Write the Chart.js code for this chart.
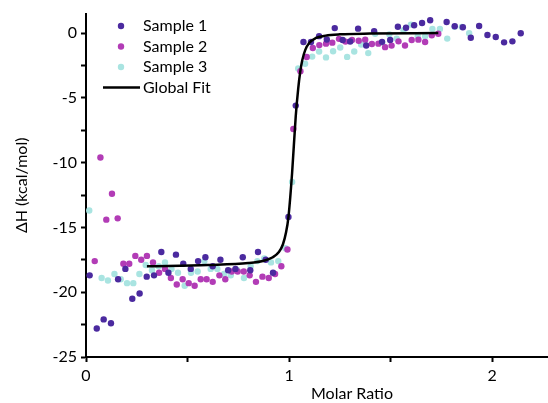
<!DOCTYPE html>
<html>
<head>
<meta charset="utf-8">
<script src="https://cdn.jsdelivr.net/npm/chart.js@4.4.1/dist/chart.umd.min.js"></script>
<style>
  html, body { margin: 0; padding: 0; background: #fff; overflow: hidden; }
  /* the original figure is cropped on the right: the x axis runs past the edge */
  #frame { width: 548px; height: 403px; overflow: hidden; }
  #itcChart { display: block; }
</style>
</head>
<body>
<div id="frame"><canvas id="itcChart" width="622" height="403"></canvas></div>
<script>
// Data (molar ratio vs. heat per injection)
const seriesNames = ['Sample 1', 'Sample 2', 'Sample 3', 'Global Fit'];

const sample1X = [0.018, 0.053, 0.087, 0.123, 0.158, 0.194, 0.228, 0.264, 0.299, 0.335, 0.371, 0.406, 0.443, 0.479, 0.516, 0.552, 0.588, 0.624, 0.662, 0.700, 0.736, 0.772, 0.809, 0.847, 0.885, 0.921, 0.997, 1.033, 1.071, 1.108, 1.148, 1.186, 1.225, 1.264, 1.301, 1.340, 1.380, 1.419, 1.458, 1.498, 1.536, 1.576, 1.616, 1.655, 1.695, 1.776, 1.816, 1.856, 1.895, 1.936, 1.977, 2.018, 2.059, 2.100, 2.141];
const sample1Y = [-18.7, -22.8, -22.1, -22.4, -19.0, -18.2, -20.5, -20.1, -18.8, -18.7, -16.9, -18.5, -17.1, -17.8, -18.2, -17.6, -17.3, -18.0, -17.5, -18.3, -18.2, -17.3, -18.3, -16.9, -17.5, -18.5, -14.2, -5.6, -0.69, -0.69, -0.24, -0.50, 0.38, -0.54, -0.65, 0.34, -0.96, 0.15, -0.68, -0.53, 0.49, 0.41, 0.60, 0.77, 0.99, 0.85, 0.52, 0.45, -0.36, 0.54, -0.15, -0.31, -0.72, -0.64, -0.02];

const sample2X = [0.043, 0.071, 0.100, 0.128, 0.156, 0.184, 0.213, 0.243, 0.272, 0.300, 0.330, 0.360, 0.389, 0.418, 0.447, 0.476, 0.506, 0.535, 0.565, 0.594, 0.624, 0.657, 0.686, 0.718, 0.747, 0.777, 0.806, 0.837, 0.869, 0.900, 0.931, 0.962, 0.992, 1.021, 1.056, 1.087, 1.117, 1.149, 1.182, 1.213, 1.246, 1.278, 1.310, 1.343, 1.375, 1.408, 1.440, 1.473, 1.505, 1.539, 1.571, 1.604, 1.637, 1.670, 1.703, 1.735];
const sample2Y = [-17.6, -9.6, -14.4, -12.4, -14.3, -17.8, -17.8, -17.2, -17.5, -17.2, -17.7, -18.5, -18.2, -18.9, -19.4, -19.0, -19.3, -19.5, -19.0, -19.0, -19.2, -18.7, -19.0, -18.4, -18.4, -18.4, -18.7, -19.2, -18.8, -18.9, -18.6, -18.0, -16.7, -7.4, -2.95, -1.85, -1.15, -0.93, -0.82, -0.74, -0.45, -0.66, -0.54, -0.60, -0.51, -0.85, -0.82, -1.09, -0.97, -0.64, -0.96, -0.54, -0.51, -0.69, -0.18, -0.05];

const sample3X = [0.016, 0.077, 0.108, 0.140, 0.171, 0.202, 0.233, 0.263, 0.294, 0.325, 0.358, 0.389, 0.421, 0.453, 0.486, 0.517, 0.550, 0.583, 0.614, 0.647, 0.680, 0.713, 0.745, 0.778, 0.811, 0.844, 0.878, 0.911, 0.947, 0.982, 1.015, 1.045, 1.079, 1.114, 1.148, 1.182, 1.217, 1.252, 1.286, 1.321, 1.355, 1.390, 1.424, 1.459, 1.494, 1.530, 1.564, 1.600, 1.634, 1.670, 1.706, 1.743, 1.779, 1.815, 1.851, 1.887];
const sample3Y = [-13.7, -18.9, -19.1, -18.6, -19.0, -19.3, -19.3, -18.6, -17.9, -18.3, -18.0, -17.7, -18.2, -18.5, -19.5, -18.5, -18.4, -17.6, -18.2, -18.2, -18.6, -18.7, -18.3, -18.9, -18.0, -17.6, -17.4, -17.7, -17.6, -16.6, -11.5, -2.74, -2.37, -1.82, -1.42, -1.88, -1.40, -1.12, -1.84, -1.42, -0.89, -1.55, -0.05, -0.75, -0.10, -0.43, 0.21, 0.65, -0.25, -0.25, 0.31, 0.31, -0.43, 0.49, 0.47, -0.01];

// fit curve
const fitX = [0.30, 0.60, 0.80, 0.88, 0.92, 0.95, 0.97, 0.985, 0.997, 1.015, 1.033, 1.045, 1.055, 1.065, 1.08, 1.10, 1.13, 1.18, 1.25, 1.40, 1.735];
const fitY = [-18.0, -17.9, -17.75, -17.55, -17.3, -16.9, -16.3, -15.4, -14.2, -10.8, -6.4, -4.3, -3.0, -2.1, -1.3, -0.75, -0.4, -0.2, -0.1, -0.04, 0.0];

const colors = ['#4b2a9f', '#b23cb6', '#a9e4e1', '#000000'];

function toPoints(xs, ys) {
    return xs.map((x, i) => ({ x: x, y: ys[i] }));
}

const FONT = 'Lato';

// legend drawn inside the plot, upper left
const insetLegend = {
    id: 'insetLegend',
    afterDatasetsDraw(chart) {
        const ctx = chart.ctx;
        ctx.save();
        ctx.font = '16px ' + FONT;
        ctx.textBaseline = 'middle';
        chart.data.datasets.forEach((ds, i) => {
            const y = 26 + i * 20.5;
            if (ds.showLine) {
                ctx.strokeStyle = ds.borderColor;
                ctx.lineWidth = 2.5;
                ctx.beginPath();
                ctx.moveTo(103, y);
                ctx.lineTo(140, y);
                ctx.stroke();
            } else {
                ctx.fillStyle = ds.backgroundColor;
                ctx.beginPath();
                ctx.arc(121, y, 3.2, 0, Math.PI * 2);
                ctx.fill();
            }
            ctx.fillStyle = '#000';
            ctx.fillText(ds.label, 143, y);
        });
        ctx.restore();
    }
};

const keepSteps = (step) => (scale) => {
    scale.ticks = scale.ticks.filter(t => Math.abs(t.value / step - Math.round(t.value / step)) < 1e-6);
};

const ctx = document.getElementById('itcChart').getContext('2d');

const itcChart = new Chart(ctx, {
    type: 'scatter',
    data: {
        datasets: [
            {
                label: seriesNames[0],
                data: toPoints(sample1X, sample1Y),
                backgroundColor: colors[0],
                borderColor: colors[0],
                pointRadius: 3.2,
                borderWidth: 0,
            },
            {
                label: seriesNames[1],
                data: toPoints(sample2X, sample2Y),
                backgroundColor: colors[1],
                borderColor: colors[1],
                pointRadius: 3.2,
                borderWidth: 0,
            },
            {
                label: seriesNames[2],
                data: toPoints(sample3X, sample3Y),
                backgroundColor: colors[2],
                borderColor: colors[2],
                pointRadius: 3.2,
                borderWidth: 0,
            },
            {
                label: seriesNames[3],
                data: toPoints(fitX, fitY),
                showLine: true,
                borderColor: colors[3],
                backgroundColor: colors[3],
                borderWidth: 2.5,
                pointRadius: 0,
                cubicInterpolationMode: 'monotone',
                order: -1,
            },
        ]
    },
    options: {
        responsive: false,
        animation: false,
        layout: {
            padding: { top: 13, right: 0, bottom: 0, left: 0 }
        },
        scales: {
            x: {
                type: 'linear',
                min: 0,
                max: 2.62,
                afterBuildTicks: keepSteps(0.5),
                afterFit: (scale) => { scale.height = 46; },
                ticks: {
                    stepSize: 0.5,
                    color: '#000',
                    padding: 4,
                    maxRotation: 0,
                    autoSkip: false,
                    font: { family: FONT, size: 16 },
                    callback: (v) => (Number.isInteger(v) ? String(v) : ''),
                },
                grid: {
                    drawOnChartArea: false,
                    tickLength: 5,
                    tickWidth: 2,
                    tickColor: '#000',
                },
                border: { color: '#000', width: 2 },
                title: {
                    display: true,
                    text: 'Molar Ratio',
                    color: '#000',
                    font: { family: FONT, size: 16 },
                    padding: { top: 1, bottom: 0 },
                },
            },
            y: {
                min: -25,
                max: 1.5,
                afterBuildTicks: keepSteps(2.5),
                afterFit: (scale) => { scale.width = 86; },
                ticks: {
                    stepSize: 2.5,
                    color: '#000',
                    padding: 4,
                    autoSkip: false,
                    font: { family: FONT, size: 16 },
                    callback: (v) => (v % 5 === 0 ? String(v) : ''),
                },
                grid: {
                    drawOnChartArea: false,
                    tickLength: 5,
                    tickWidth: 2,
                    tickColor: '#000',
                },
                border: { color: '#000', width: 2 },
                title: {
                    display: true,
                    text: 'ΔH (kcal/mol)',
                    color: '#000',
                    font: { family: FONT, size: 16 },
                    padding: { top: 12, bottom: 4 },
                },
            },
        },
        plugins: {
            legend: { display: false },
            tooltip: { enabled: false },
        },
    },
    plugins: [insetLegend]
});
</script>
</body>
</html>
